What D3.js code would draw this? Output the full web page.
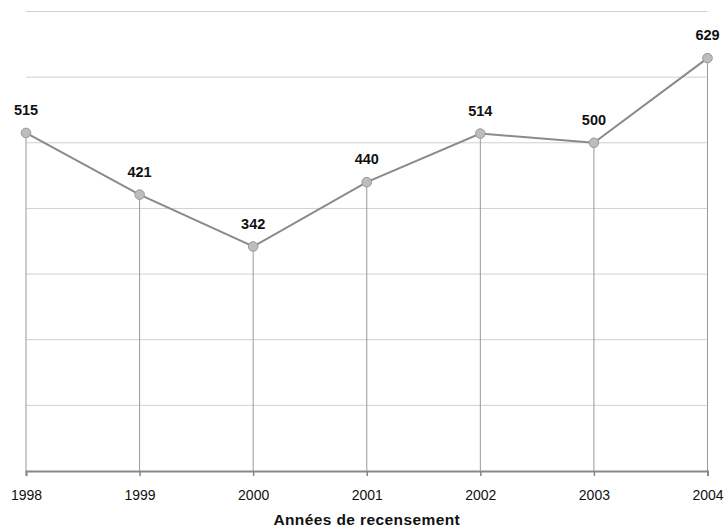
<!DOCTYPE html>
<html lang="fr">
<head>
<meta charset="UTF-8">
<title>Années de recensement</title>
<script src="https://cdn.jsdelivr.net/npm/d3@7"></script>
<style>
    html, body { margin: 0; padding: 0; background: #fff; }
    svg text { font-family: "Liberation Sans", Arial, sans-serif; }
</style>
</head>
<body>
<div id="chart"></div>
<script>
    const years = ['1998', '1999', '2000', '2001', '2002', '2003', '2004'];
    const values = [515, 421, 342, 440, 514, 500, 629];
    const yTicks = [0, 100, 200, 300, 400, 500, 600, 700];
    const xTitle = 'Années de recensement';

    const width = 726, height = 529;
    const margin = {top: 11.5, right: 18.5, bottom: 58, left: 26};
    const plotW = width - margin.left - margin.right;
    const plotH = height - margin.top - margin.bottom;

    const svg = d3.select('#chart').append('svg')
        .attr('width', width).attr('height', height);

    const g = svg.append('g').attr('transform', `translate(${margin.left},${margin.top})`);

    const x = d3.scalePoint().domain(years).range([0, plotW]);
    const y = d3.scaleLinear().domain([0, 700]).range([plotH, 0]);

    // horizontal grid
    g.selectAll('line.grid').data(yTicks.slice(1)).enter().append('line')
        .attr('class', 'grid')
        .attr('x1', 0).attr('x2', plotW)
        .attr('y1', d => y(d)).attr('y2', d => y(d))
        .attr('stroke', '#cfcfcf').attr('stroke-width', 1);

    // drop lines
    g.selectAll('line.drop').data(values).enter().append('line')
        .attr('class', 'drop')
        .attr('x1', (d, i) => x(years[i])).attr('x2', (d, i) => x(years[i]))
        .attr('y1', d => y(d)).attr('y2', plotH)
        .attr('stroke', '#999').attr('stroke-width', 1);

    // x axis
    const axis = g.append('g')
        .attr('transform', `translate(0,${plotH})`)
        .call(d3.axisBottom(x).tickSize(5).tickPadding(14));
    axis.select('.domain').attr('stroke', '#888').attr('stroke-width', 2);
    axis.selectAll('.tick line').attr('stroke', '#888').attr('stroke-width', 1.5);
    axis.selectAll('.tick text')
        .attr('font-size', 14).attr('fill', '#111')
        .style('font-family', '"Liberation Sans", Arial, sans-serif');

    // line
    const line = d3.line().x((d, i) => x(years[i])).y(d => y(d));
    g.append('path').datum(values)
        .attr('d', line)
        .attr('fill', 'none')
        .attr('stroke', '#8a8a8a').attr('stroke-width', 2);

    // markers
    g.selectAll('circle').data(values).enter().append('circle')
        .attr('cx', (d, i) => x(years[i])).attr('cy', d => y(d))
        .attr('r', 4.8)
        .attr('fill', '#bdbdbd').attr('stroke', '#999').attr('stroke-width', 1);

    // value labels
    g.selectAll('text.val').data(values).enter().append('text')
        .attr('class', 'val')
        .attr('x', (d, i) => x(years[i])).attr('y', d => y(d) - 18)
        .attr('text-anchor', 'middle')
        .attr('font-size', 14.5).attr('font-weight', 'bold').attr('fill', '#111')
        .text(d => d);

    // axis title
    svg.append('text')
        .attr('x', margin.left + plotW / 2).attr('y', 525)
        .attr('text-anchor', 'middle')
        .attr('font-size', 15.5).attr('font-weight', 'bold').attr('fill', '#111')
        .attr('letter-spacing', 0.4)
        .text(xTitle);
</script>
</body>
</html>
